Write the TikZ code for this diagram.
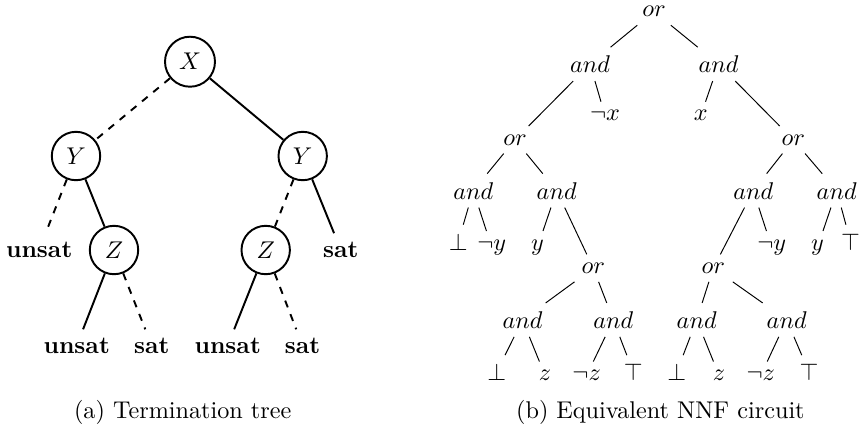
\documentclass[tikz,border=0pt]{standalone}
\usepackage{tikz}

\begin{document}
\begin{tikzpicture}[x=0.4132pt, y=-0.4132pt,
  var/.style={draw, circle, thick, minimum size=20pt},
  res/.style={font=\bfseries},
  hi/.style={thick},
  lo/.style={thick, dashed},
  g/.style={anchor=base}]
\useasboundingbox (0,0) rectangle (865,428);
\node[var] (X) at (190,61.7) {$X$};
\node[var] (Y1) at (76,156) {$Y$};
\node[var] (Y2) at (302.7,156) {$Y$};
\node[var] (Z1) at (114,250) {$Z$};
\node[var] (Z2) at (265.7,250) {$Z$};
\node[res] (u1) at (39.2,249.5) {unsat};
\node[res] (s1) at (340.7,249.5) {sat};
\node[res] (u2) at (76.7,345.6) {unsat};
\node[res] (s2) at (151.7,345.6) {sat};
\node[res] (u3) at (227.7,345.6) {unsat};
\node[res] (s3) at (302.5,345.6) {sat};
\draw[lo] (X) -- (Y1);
\draw[hi] (X) -- (Y2);
\draw[lo] (Y1) -- (u1);
\draw[hi] (Y1) -- (Z1);
\draw[lo] (Y2) -- (Z2);
\draw[hi] (Y2) -- (s1);
\draw[hi] (Z1) -- (u2);
\draw[lo] (Z1) -- (s2);
\draw[hi] (Z2) -- (u3);
\draw[lo] (Z2) -- (s3);
\node[g] (or0) at (654,16.7) {$or$};
\node[g] (and1) at (590,72.5) {$and$};
\node[g] (and2) at (718.5,72.5) {$and$};
\node[g] (nx) at (605,120.7) {$\neg x$};
\node[g] (px) at (700.8,120.7) {$x$};
\node[g] (or1) at (515,145) {$or$};
\node[g] (or2) at (793.3,145) {$or$};
\node[g] (and3) at (473.3,199) {$and$};
\node[g] (and4) at (556.7,199) {$and$};
\node[g] (and5) at (753.3,199) {$and$};
\node[g] (and6) at (836.7,199) {$and$};
\node[g] (f1) at (458.3,250) {$\bot$};
\node[g] (ny1) at (491.7,250) {$\neg y$};
\node[g] (py1) at (537.5,250) {$y$};
\node[g] (ny2) at (771.7,250) {$\neg y$};
\node[g] (py2) at (817.5,250) {$y$};
\node[g] (t1) at (850.5,250) {$\top$};
\node[g] (or3) at (593.3,273.3) {$or$};
\node[g] (or4) at (713.3,273.3) {$or$};
\node[g] (and7) at (522.5,328.3) {$and$};
\node[g] (and8) at (613.3,328.3) {$and$};
\node[g] (and9) at (696.7,328.3) {$and$};
\node[g] (and10) at (786.7,328.3) {$and$};
\node[g] (f2) at (496.7,380.5) {$\bot$};
\node[g] (pz1) at (545,380.5) {$z$};
\node[g] (nz1) at (586.7,380.5) {$\neg z$};
\node[g] (t2) at (633.3,380.5) {$\top$};
\node[g] (f3) at (676.7,380.5) {$\bot$};
\node[g] (pz2) at (719,380.5) {$z$};
\node[g] (nz2) at (760.8,380.5) {$\neg z$};
\node[g] (t3) at (809,380.5) {$\top$};
\draw (or0) -- (and1);
\draw (or0) -- (and2);
\draw (and1) -- (or1);
\draw (and1) -- (nx);
\draw (and2) -- (px);
\draw (and2) -- (or2);
\draw (or1) -- (and3);
\draw (or1) -- (and4);
\draw (or2) -- (and5);
\draw (or2) -- (and6);
\draw (and3) -- (f1);
\draw (and3) -- (ny1);
\draw (and4) -- (py1);
\draw (and4) -- (or3);
\draw (and5) -- (or4);
\draw (and5) -- (ny2);
\draw (and6) -- (py2);
\draw (and6) -- (t1);
\draw (or3) -- (and7);
\draw (or3) -- (and8);
\draw (or4) -- (and9);
\draw (or4) -- (and10);
\draw (and7) -- (f2);
\draw (and7) -- (pz1);
\draw (and8) -- (nz1);
\draw (and8) -- (t2);
\draw (and9) -- (f3);
\draw (and9) -- (pz2);
\draw (and10) -- (nz2);
\draw (and10) -- (t3);
\node[g] (capa) at (182.7,418) {(a) Termination tree};
\node[g] (capb) at (660.4,418) {(b) Equivalent NNF circuit};
\end{tikzpicture}
\end{document}
